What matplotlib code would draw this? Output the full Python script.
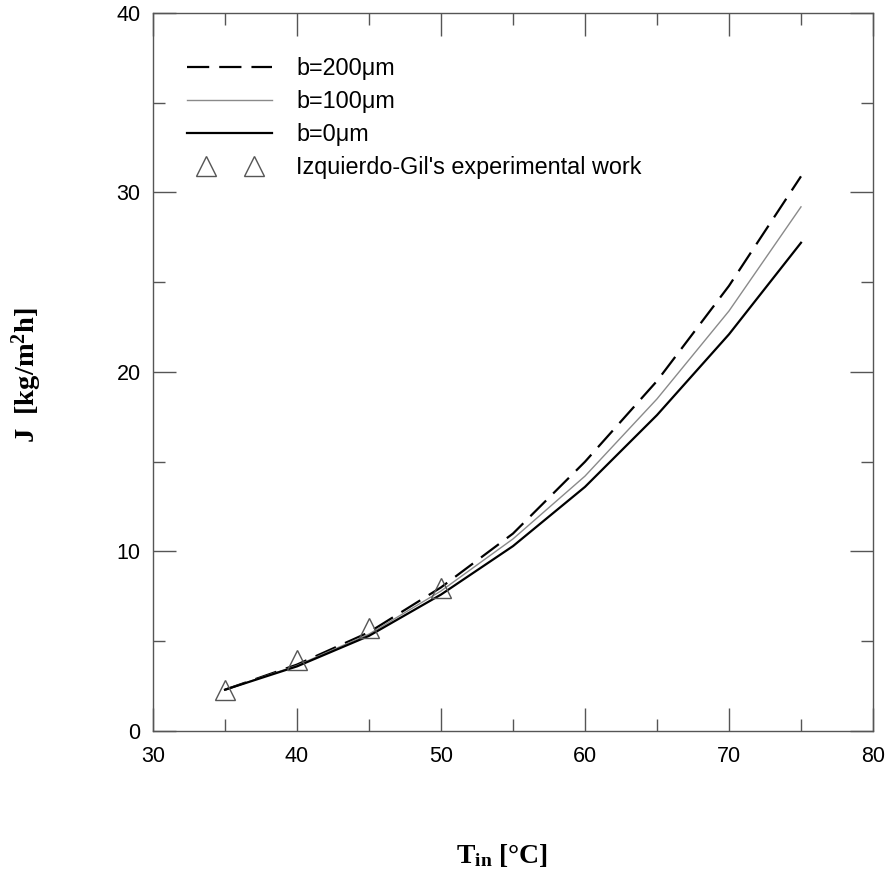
import numpy as np
import matplotlib
matplotlib.use('Agg')
import matplotlib.pyplot as plt
from matplotlib.ticker import MultipleLocator
from matplotlib.legend_handler import HandlerLine2D

# model curves (inlet temperature vs. flux)
t_in = [35, 40, 45, 50, 55, 60, 65, 70, 75]
j_b200 = [2.3, 3.7, 5.5, 8.0, 11.0, 15.0, 19.5, 24.8, 30.9]
j_b100 = [2.3, 3.65, 5.4, 7.8, 10.7, 14.2, 18.5, 23.4, 29.2]
j_b0 = [2.3, 3.6, 5.3, 7.6, 10.3, 13.6, 17.6, 22.1, 27.2]

# experimental points
t_exp = [35, 40, 45, 50]
j_exp = [2.3, 3.95, 5.75, 7.95]

plt.rcParams['font.family'] = ['Liberation Sans', 'DejaVu Sans']
plt.rcParams['mathtext.fontset'] = 'custom'
plt.rcParams['mathtext.rm'] = 'Liberation Serif:bold'
plt.rcParams['mathtext.it'] = 'Liberation Serif:bold'
plt.rcParams['mathtext.bf'] = 'Liberation Serif:bold'

fig = plt.figure(figsize=(8.88, 8.72), dpi=100)
ax = fig.add_axes([0.1723, 0.1617, 0.8108, 0.8234])

ax.plot(t_in, j_b200, color='black', lw=1.6, dashes=(10, 4.5), label='b=200μm')
ax.plot(t_in, j_b100, color='#8a8a8a', lw=1.0, label='b=100μm')
ax.plot(t_in, j_b0, color='black', lw=1.6, label='b=0μm')
exp_line, = ax.plot(t_exp, j_exp, ls='none', marker='^', ms=15, mfc='none',
                    mec='#555555', mew=1.0,
                    label="Izquierdo-Gil's experimental work")

ax.set_xlim(30, 80)
ax.set_ylim(0, 40)
ax.xaxis.set_major_locator(MultipleLocator(10))
ax.xaxis.set_minor_locator(MultipleLocator(5))
ax.yaxis.set_major_locator(MultipleLocator(10))
ax.yaxis.set_minor_locator(MultipleLocator(5))

ax.tick_params(which='both', direction='in', top=True, right=True,
               color='#555555', width=1.0, labelsize=15.5)
ax.tick_params(which='major', length=16.5)
ax.tick_params(which='minor', length=8.5)
ax.tick_params(axis='x', pad=11)
ax.tick_params(axis='y', pad=9)
for sp in ax.spines.values():
    sp.set_color('#555555')
    sp.set_linewidth(1.0)

ax.set_xlabel(r'$\mathrm{T_{in}}$ [°C]', fontfamily='Liberation Serif',
              fontweight='bold', fontsize=20)
ax.xaxis.set_label_coords(0.485, -0.155)
ax.set_ylabel(r'J  [kg/m$\mathrm{^2}$h]', fontfamily='Liberation Serif',
              fontweight='bold', fontsize=20.5)
ax.yaxis.set_label_coords(-0.152, 0.496)

ax.legend(loc='upper left', bbox_to_anchor=(0.0375, 0.939), frameon=False,
          fontsize=16.8, handlelength=4.25, handletextpad=0.73, labelspacing=0.43,
          numpoints=2, borderpad=0, borderaxespad=0,
          handler_map={exp_line: HandlerLine2D(marker_pad=1.1)})

fig.savefig('out.png', dpi=100)
